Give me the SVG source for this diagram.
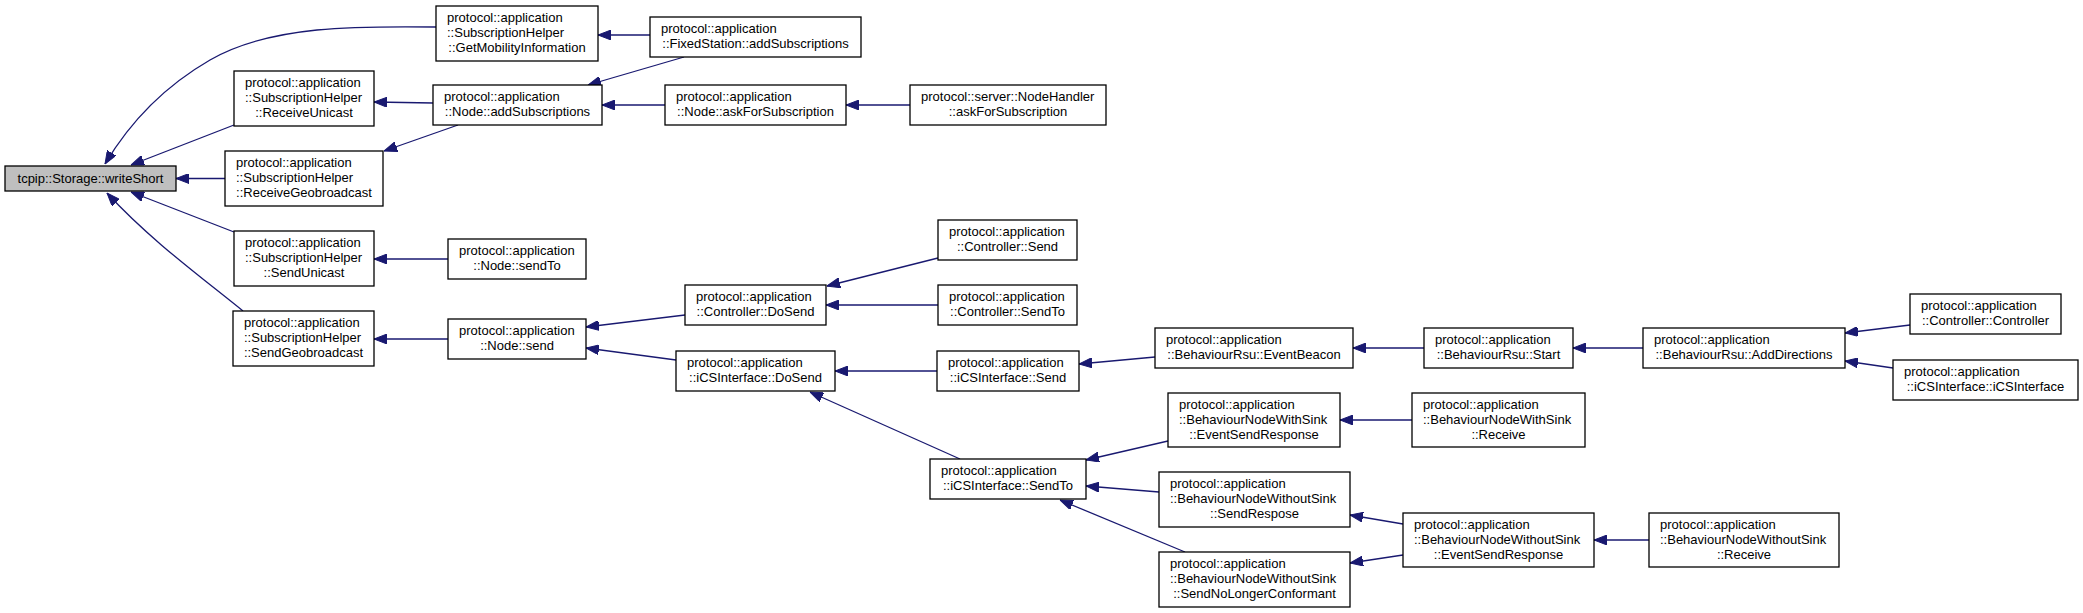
<svg xmlns="http://www.w3.org/2000/svg" width="2083" height="613" viewBox="0 0 2083 613">
<style>
.node rect{fill:#ffffff;stroke:#000000;stroke-width:1.3}
.node.root rect{fill:#bfbfbf}
.node text{font-family:"Liberation Sans",Arial,Helvetica,sans-serif;font-size:13px;fill:#000000}
.c{text-anchor:middle}
.edge path{fill:none;stroke:#191970;stroke-width:1.3;marker-end:url(#ah)}
</style>
<defs>
<marker id="ah" markerUnits="userSpaceOnUse" viewBox="0 0 13 10" refX="13" refY="5" markerWidth="13" markerHeight="10" orient="auto">
<path d="M0,0 L13,5 L0,10 z" fill="#191970" stroke="#191970" stroke-width="1"/>
</marker>
</defs>
<rect width="2083" height="613" fill="#ffffff"/>
<g id="edges" class="edge">
<path d="M436,27 C360,26 270,25 210,60 C165,86 130,122 105,164"/>
<path d="M234,125 L131,165"/>
<path d="M225,178.5 L176,178.5"/>
<path d="M234,232 L131,192"/>
<path d="M243,311 C205,280 150,240 107,193"/>
<path d="M433,103 L374,102"/>
<path d="M458,125 L384,151"/>
<path d="M650,35 L598,35"/>
<path d="M684,57 L588,85"/>
<path d="M665,105 L602,105"/>
<path d="M910,105 L846,105"/>
<path d="M448,259 L374,259"/>
<path d="M448,339 L374,339"/>
<path d="M685,315 L586,327"/>
<path d="M676,360 L586,348"/>
<path d="M938,258 L827,286"/>
<path d="M938,305 L826,305"/>
<path d="M937,371 L835,371"/>
<path d="M960,459 L810,392"/>
<path d="M1155,357 L1079,364"/>
<path d="M1424,348 L1353,348"/>
<path d="M1643,348 L1573,348"/>
<path d="M1910,325 L1845,333"/>
<path d="M1893,368 L1845,361"/>
<path d="M1168,441 L1086,460"/>
<path d="M1412,420 L1340,420"/>
<path d="M1159,492 L1086,486"/>
<path d="M1185,552 L1060,500"/>
<path d="M1403,524 L1350,515"/>
<path d="M1403,555 L1350,563"/>
<path d="M1649,540 L1594,540"/>
</g>
<g id="n_writeShort" class="node root"><rect x="5" y="166" width="171" height="25"/><text class="c" x="90.5" y="183">tcpip::Storage::writeShort</text></g>
<g id="n_getMobility" class="node"><rect x="436" y="6" width="162" height="55"/><text x="447" y="22">protocol::application</text><text x="447" y="37">::SubscriptionHelper</text><text class="c" x="517" y="52">::GetMobilityInformation</text></g>
<g id="n_receiveUnicast" class="node"><rect x="234" y="71" width="140" height="55"/><text x="245" y="87">protocol::application</text><text x="245" y="102">::SubscriptionHelper</text><text class="c" x="304" y="117">::ReceiveUnicast</text></g>
<g id="n_receiveGeo" class="node"><rect x="225" y="151" width="158" height="55"/><text x="236" y="167">protocol::application</text><text x="236" y="182">::SubscriptionHelper</text><text class="c" x="304" y="197">::ReceiveGeobroadcast</text></g>
<g id="n_sendUnicast" class="node"><rect x="234" y="231" width="140" height="55"/><text x="245" y="247">protocol::application</text><text x="245" y="262">::SubscriptionHelper</text><text class="c" x="304" y="277">::SendUnicast</text></g>
<g id="n_sendGeo" class="node"><rect x="233" y="311" width="141" height="55"/><text x="244" y="327">protocol::application</text><text x="244" y="342">::SubscriptionHelper</text><text class="c" x="303.5" y="357">::SendGeobroadcast</text></g>
<g id="n_nodeAddSubs" class="node"><rect x="433" y="85" width="169" height="40"/><text x="444" y="101">protocol::application</text><text class="c" x="517.5" y="116">::Node::addSubscriptions</text></g>
<g id="n_fixedAddSubs" class="node"><rect x="650" y="17" width="211" height="40"/><text x="661" y="33">protocol::application</text><text class="c" x="755.5" y="48">::FixedStation::addSubscriptions</text></g>
<g id="n_nodeAskFor" class="node"><rect x="665" y="85" width="181" height="40"/><text x="676" y="101">protocol::application</text><text class="c" x="755.5" y="116">::Node::askForSubscription</text></g>
<g id="n_nodeHandlerAsk" class="node"><rect x="910" y="85" width="196" height="40"/><text x="921" y="101">protocol::server::NodeHandler</text><text class="c" x="1008" y="116">::askForSubscription</text></g>
<g id="n_nodeSendTo" class="node"><rect x="448" y="239" width="138" height="40"/><text x="459" y="255">protocol::application</text><text class="c" x="517" y="270">::Node::sendTo</text></g>
<g id="n_nodeSend" class="node"><rect x="448" y="319" width="138" height="40"/><text x="459" y="335">protocol::application</text><text class="c" x="517" y="350">::Node::send</text></g>
<g id="n_ctrlSend" class="node"><rect x="938" y="220" width="139" height="40"/><text x="949" y="236">protocol::application</text><text class="c" x="1007.5" y="251">::Controller::Send</text></g>
<g id="n_ctrlDoSend" class="node"><rect x="685" y="285" width="141" height="40"/><text x="696" y="301">protocol::application</text><text class="c" x="755.5" y="316">::Controller::DoSend</text></g>
<g id="n_ctrlSendTo" class="node"><rect x="938" y="285" width="139" height="40"/><text x="949" y="301">protocol::application</text><text class="c" x="1007.5" y="316">::Controller::SendTo</text></g>
<g id="n_icsDoSend" class="node"><rect x="676" y="351" width="159" height="40"/><text x="687" y="367">protocol::application</text><text class="c" x="755.5" y="382">::iCSInterface::DoSend</text></g>
<g id="n_icsSend" class="node"><rect x="937" y="351" width="142" height="40"/><text x="948" y="367">protocol::application</text><text class="c" x="1008" y="382">::iCSInterface::Send</text></g>
<g id="n_rsuEventBeacon" class="node"><rect x="1155" y="328" width="198" height="40"/><text x="1166" y="344">protocol::application</text><text class="c" x="1254" y="359">::BehaviourRsu::EventBeacon</text></g>
<g id="n_rsuStart" class="node"><rect x="1424" y="328" width="149" height="40"/><text x="1435" y="344">protocol::application</text><text class="c" x="1498.5" y="359">::BehaviourRsu::Start</text></g>
<g id="n_rsuAddDirections" class="node"><rect x="1643" y="328" width="202" height="40"/><text x="1654" y="344">protocol::application</text><text class="c" x="1744" y="359">::BehaviourRsu::AddDirections</text></g>
<g id="n_ctrlCtor" class="node"><rect x="1910" y="294" width="151" height="40"/><text x="1921" y="310">protocol::application</text><text class="c" x="1985.5" y="325">::Controller::Controller</text></g>
<g id="n_icsCtor" class="node"><rect x="1893" y="360" width="185" height="40"/><text x="1904" y="376">protocol::application</text><text class="c" x="1985.5" y="391">::iCSInterface::iCSInterface</text></g>
<g id="n_icsSendTo" class="node"><rect x="930" y="459" width="156" height="40"/><text x="941" y="475">protocol::application</text><text class="c" x="1008" y="490">::iCSInterface::SendTo</text></g>
<g id="n_wsEventSendResponse" class="node"><rect x="1168" y="393" width="172" height="54"/><text x="1179" y="409">protocol::application</text><text x="1179" y="424">::BehaviourNodeWithSink</text><text class="c" x="1254" y="439">::EventSendResponse</text></g>
<g id="n_wsReceive" class="node"><rect x="1412" y="393" width="173" height="54"/><text x="1423" y="409">protocol::application</text><text x="1423" y="424">::BehaviourNodeWithSink</text><text class="c" x="1498.5" y="439">::Receive</text></g>
<g id="n_wosSendRespose" class="node"><rect x="1159" y="472" width="191" height="55"/><text x="1170" y="488">protocol::application</text><text x="1170" y="503">::BehaviourNodeWithoutSink</text><text class="c" x="1254.5" y="518">::SendRespose</text></g>
<g id="n_wosSendNoLonger" class="node"><rect x="1159" y="552" width="191" height="55"/><text x="1170" y="568">protocol::application</text><text x="1170" y="583">::BehaviourNodeWithoutSink</text><text class="c" x="1254.5" y="598">::SendNoLongerConformant</text></g>
<g id="n_wosEventSendResponse" class="node"><rect x="1403" y="513" width="191" height="54"/><text x="1414" y="529">protocol::application</text><text x="1414" y="544">::BehaviourNodeWithoutSink</text><text class="c" x="1498.5" y="559">::EventSendResponse</text></g>
<g id="n_wosReceive" class="node"><rect x="1649" y="513" width="190" height="54"/><text x="1660" y="529">protocol::application</text><text x="1660" y="544">::BehaviourNodeWithoutSink</text><text class="c" x="1744" y="559">::Receive</text></g>
</svg>
